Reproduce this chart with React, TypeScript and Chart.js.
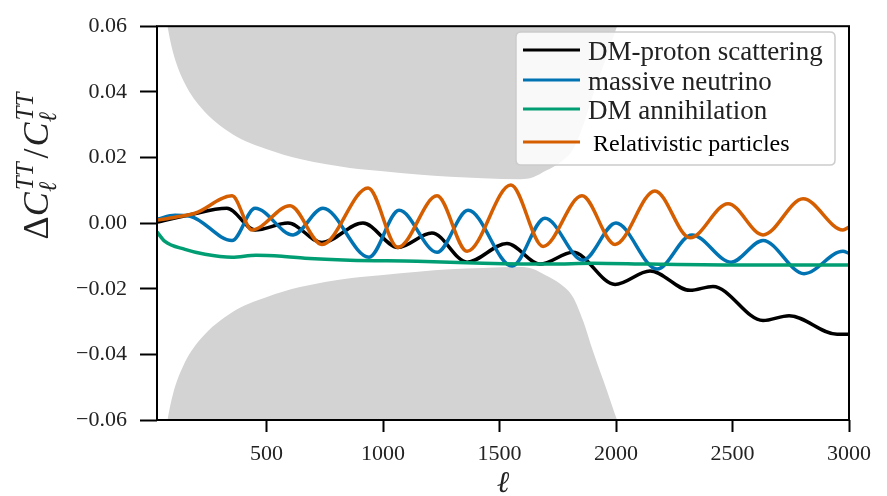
import React, { useEffect, useRef } from "react";
import { Chart, registerables } from "chart.js";

Chart.register(...registerables);

// ---------- data ----------
const xTicks = [500, 1000, 1500, 2000, 2500, 3000];
const yTicks = [-0.06, -0.04, -0.02, 0, 0.02, 0.04, 0.06];

const seriesLabels = [
  "DM-proton scattering",
  "massive neutrino",
  "DM annihilation",
  "Relativistic particles",
];
const seriesColors = ["#000000", "#0173b2", "#029e73", "#d55e00"];

const protonL = [30, 163, 330, 451, 592, 738, 914, 1064, 1210, 1361, 1532, 1674, 1815, 1996, 2146, 2318, 2416, 2631, 2743, 2949, 3000];
const protonV = [0.0003, 0.0024, 0.0045, -0.0021, 0.0, -0.0059, 0.0, -0.0074, -0.003, -0.0119, -0.0062, -0.0125, -0.0089, -0.0187, -0.0146, -0.0205, -0.0193, -0.0297, -0.0282, -0.0339, -0.0339];

const neutrinoL = [30, 107, 172, 352, 451, 614, 742, 940, 1069, 1232, 1365, 1554, 1695, 1858, 2000, 2176, 2326, 2494, 2631, 2807, 2974, 3000];
const neutrinoV = [0.0012, 0.0024, 0.0021, -0.0053, 0.0045, -0.0036, 0.0045, -0.0104, 0.0039, -0.0089, 0.0039, -0.0131, 0.0015, -0.0113, 0.0, -0.014, -0.0036, -0.0119, -0.0053, -0.0154, -0.0086, -0.0092];

const annihilationL = [30, 64, 150, 236, 352, 455, 566, 665, 858, 1146, 1429, 1717, 1900, 2146, 2575, 3000];
const annihilationV = [-0.0027, -0.0056, -0.008, -0.0095, -0.0104, -0.0098, -0.0101, -0.0107, -0.0113, -0.0116, -0.0122, -0.0125, -0.0122, -0.0125, -0.0128, -0.0128];

const relativisticL = [30, 107, 193, 352, 438, 601, 738, 936, 1064, 1232, 1361, 1549, 1687, 1854, 1996, 2167, 2318, 2481, 2631, 2803, 2974, 3000];
const relativisticV = [0.0009, 0.0018, 0.003, 0.0083, -0.0021, 0.0053, -0.0065, 0.0107, -0.0074, 0.0083, -0.0086, 0.0116, -0.0071, 0.0083, -0.0065, 0.0098, -0.0045, 0.0059, -0.0036, 0.0074, -0.0021, -0.0012];

// half-width of the shaded (error) band, symmetric around zero
const bandL = [30, 40, 50, 60, 75, 99, 142, 215, 356, 502, 644, 858, 1000, 1150, 1288, 1429, 1590, 1644, 1700, 1760, 1815, 1860, 1901, 1961, 2010, 2040, 2100, 3000];
const bandHalf = [0.095, 0.082, 0.0735, 0.067, 0.06, 0.052, 0.0436, 0.0355, 0.027, 0.0225, 0.0195, 0.0168, 0.0158, 0.0148, 0.0141, 0.0137, 0.0134, 0.014, 0.016, 0.0185, 0.0225, 0.03, 0.039, 0.051, 0.061, 0.07, 0.2, 0.3];

const pts = (xs: number[], ys: number[]) => xs.map((x, i) => ({ x, y: ys[i] }));

const SERIF = "'Liberation Serif', 'Times New Roman', serif";

// ---------- plugins ----------
const framePlugin = {
  id: "frame",
  afterDatasetsDraw(chart: any) {
    const { ctx, chartArea: a } = chart;
    ctx.save();
    ctx.strokeStyle = "#000";
    ctx.lineWidth = 2;
    ctx.strokeRect(a.left, a.top, a.right - a.left, a.bottom - a.top);
    ctx.restore();
  },
};

const legendPlugin = {
  id: "customLegend",
  afterDraw(chart: any) {
    const ctx = chart.ctx;
    const bx = 516, by = 32, bw = 319, bh = 133, r = 5;
    ctx.save();
    ctx.beginPath();
    ctx.moveTo(bx + r, by);
    ctx.lineTo(bx + bw - r, by);
    ctx.quadraticCurveTo(bx + bw, by, bx + bw, by + r);
    ctx.lineTo(bx + bw, by + bh - r);
    ctx.quadraticCurveTo(bx + bw, by + bh, bx + bw - r, by + bh);
    ctx.lineTo(bx + r, by + bh);
    ctx.quadraticCurveTo(bx, by + bh, bx, by + bh - r);
    ctx.lineTo(bx, by + r);
    ctx.quadraticCurveTo(bx, by, bx + r, by);
    ctx.closePath();
    ctx.fillStyle = "rgba(255,255,255,0.85)";
    ctx.fill();
    ctx.strokeStyle = "#cccccc";
    ctx.lineWidth = 1.5;
    ctx.stroke();

    const lineY = [50, 80, 109, 142];
    const baseY = [60, 90, 119, 151];
    const textX = [588, 588, 588, 593];
    const fonts = [`27px ${SERIF}`, `27px ${SERIF}`, `27px ${SERIF}`, `24px ${SERIF}`];
    const textColors = ["#222", "#222", "#222", "#000"];
    seriesLabels.forEach((lab, i) => {
      ctx.strokeStyle = seriesColors[i];
      ctx.lineWidth = 3;
      ctx.beginPath();
      ctx.moveTo(523, lineY[i]);
      ctx.lineTo(580, lineY[i]);
      ctx.stroke();
      ctx.fillStyle = textColors[i];
      ctx.font = fonts[i];
      ctx.textAlign = "left";
      ctx.textBaseline = "alphabetic";
      ctx.fillText(lab, textX[i], baseY[i]);
    });
    ctx.restore();
  },
};

const axisTitlePlugin = {
  id: "axisTitles",
  afterDraw(chart: any) {
    const ctx = chart.ctx;
    ctx.save();
    ctx.fillStyle = "#222";
    // x title
    ctx.font = `italic 30px ${SERIF}`;
    ctx.textAlign = "center";
    ctx.textBaseline = "alphabetic";
    ctx.fillText("\u2113", (chart.chartArea.left + chart.chartArea.right) / 2, 492);

    // y title (rich text, rotated)
    const main = `36px ${SERIF}`;
    const mainIt = `italic 36px ${SERIF}`;
    const script = `italic 25px ${SERIF}`;
    type Part = { t?: string; font?: string; sup?: string; sub?: string; gap?: number };
    const parts: Part[] = [
      { t: "\u0394", font: main },
      { t: "C", font: mainIt },
      { sup: "TT", sub: "\u2113" },
      { gap: 4 },
      { t: "/", font: main },
      { gap: 2 },
      { t: "C", font: mainIt },
      { sup: "TT", sub: "\u2113" },
    ];
    const widths = parts.map((p) => {
      if (p.gap) return p.gap;
      if (p.t) { ctx.font = p.font; return ctx.measureText(p.t).width; }
      ctx.font = script;
      return Math.max(ctx.measureText(p.sup!).width, ctx.measureText(p.sub!).width) + 2;
    });
    const total = widths.reduce((a, b) => a + b, 0);
    ctx.translate(48, 166);
    ctx.rotate(-Math.PI / 2);
    ctx.textAlign = "left";
    let x = -total / 2;
    parts.forEach((p, i) => {
      if (p.t) {
        ctx.font = p.font;
        ctx.fillText(p.t, x, 0);
      } else if (p.sup) {
        ctx.font = script;
        ctx.fillText(p.sup, x + 2, -15);
        ctx.fillText(p.sub!, x, 8);
      }
      x += widths[i];
    });
    ctx.restore();
  },
};

const fmtY = (v: number) => {
  const s = Math.abs(v).toFixed(2);
  return v < -1e-9 ? "\u2212" + s : s;
};

export default function App() {
  const ref = useRef<HTMLCanvasElement | null>(null);

  useEffect(() => {
    if (!ref.current) return;
    const lineDs = (label: string, color: string, xs: number[], ys: number[], order: number) => ({
      label,
      data: pts(xs, ys),
      borderColor: color,
      backgroundColor: color,
      borderWidth: 3.5,
      pointRadius: 0,
      cubicInterpolationMode: "monotone" as const,
      fill: false,
      order,
    });
    const chart = new Chart(ref.current, {
      type: "line",
      data: {
        datasets: [
          {
            label: "band upper",
            data: pts(bandL, bandHalf),
            borderWidth: 0,
            borderColor: "rgba(0,0,0,0)",
            backgroundColor: "#d3d3d3",
            pointRadius: 0,
            cubicInterpolationMode: "monotone",
            fill: "end",
            order: 10,
          },
          {
            label: "band lower",
            data: pts(bandL, bandHalf.map((v) => -v)),
            borderWidth: 0,
            borderColor: "rgba(0,0,0,0)",
            backgroundColor: "#d3d3d3",
            pointRadius: 0,
            cubicInterpolationMode: "monotone",
            fill: "start",
            order: 11,
          },
          lineDs(seriesLabels[0], seriesColors[0], protonL, protonV, 4),
          lineDs(seriesLabels[1], seriesColors[1], neutrinoL, neutrinoV, 3),
          lineDs(seriesLabels[2], seriesColors[2], annihilationL, annihilationV, 2),
          lineDs(seriesLabels[3], seriesColors[3], relativisticL, relativisticV, 1),
        ] as any,
      },
      options: {
        animation: false,
        responsive: false,
        maintainAspectRatio: false,
        layout: { padding: { top: 16, right: 38, left: 0, bottom: 0 } },
        plugins: {
          legend: { display: false },
          tooltip: { enabled: false },
        },
        scales: {
          x: {
            type: "linear",
            min: 30,
            max: 3000,
            afterBuildTicks: (s: any) => {
              s.ticks = xTicks.map((v) => ({ value: v }));
            },
            afterFit: (s: any) => {
              s.height = 76;
            },
            border: { display: false },
            grid: {
              drawOnChartArea: false,
              drawTicks: true,
              tickLength: 12,
              tickWidth: 2,
              tickColor: "#000",
            },
            ticks: {
              font: { family: SERIF, size: 22 },
              color: "#222",
              padding: 9,
              maxRotation: 0,
              autoSkip: false,
              callback: (v: any) => String(v),
            },
          },
          y: {
            type: "linear",
            min: -0.06,
            max: 0.06,
            afterBuildTicks: (s: any) => {
              s.ticks = yTicks.map((v) => ({ value: v }));
            },
            afterFit: (s: any) => {
              s.width = 157;
            },
            border: { display: false },
            grid: {
              drawOnChartArea: false,
              drawTicks: true,
              tickLength: 17,
              tickWidth: 2,
              tickColor: "#000",
            },
            ticks: {
              font: { family: SERIF, size: 22 },
              color: "#222",
              padding: 13,
              autoSkip: false,
              callback: (v: any) => fmtY(Number(v)),
            },
          },
        },
      } as any,
      plugins: [framePlugin, legendPlugin, axisTitlePlugin],
    });
    return () => chart.destroy();
  }, []);

  return (
    <div style={{ position: "absolute", left: 0, top: 0, width: 887, height: 496, background: "#fff" }}>
      <canvas ref={ref} width={887} height={496} style={{ width: 887, height: 496, display: "block" }} />
    </div>
  );
}
